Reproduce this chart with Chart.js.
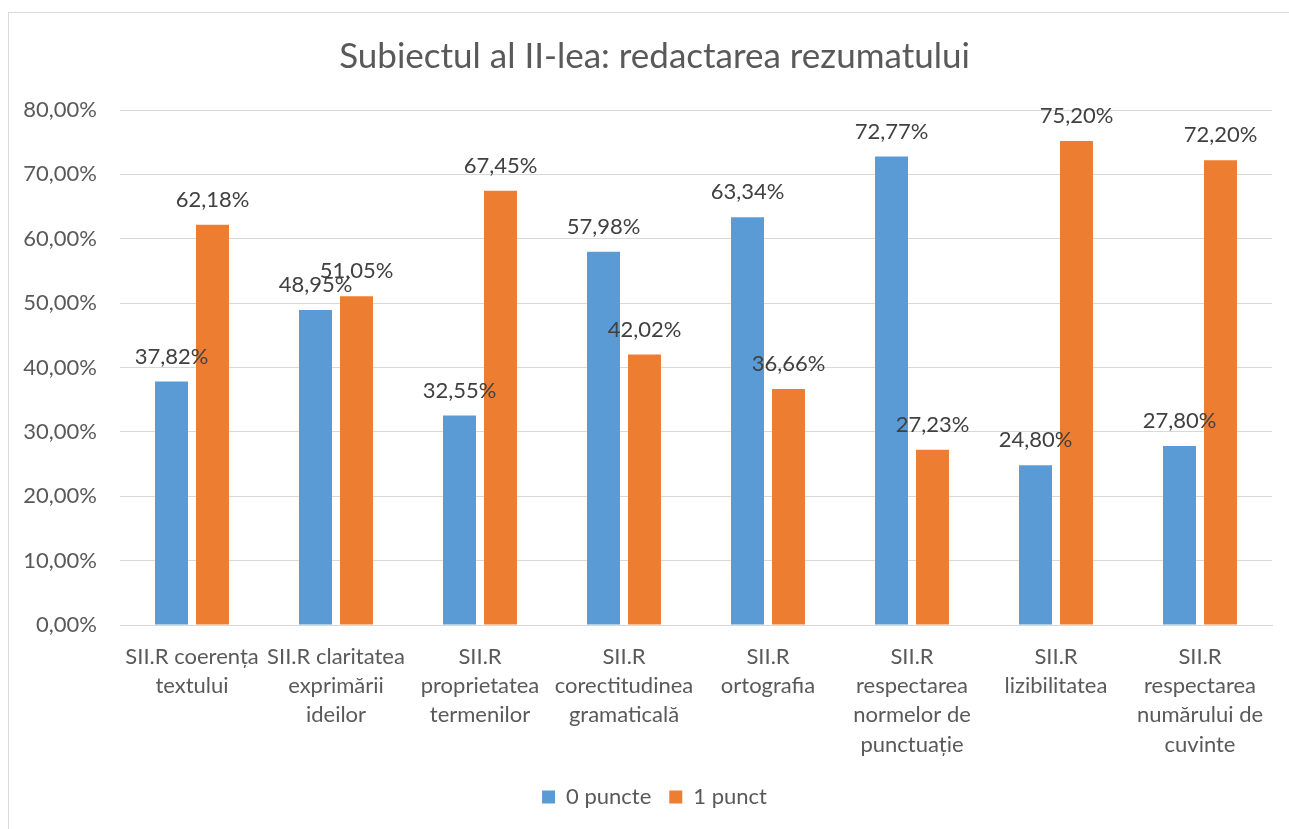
<!DOCTYPE html>
<html>
<head>
<meta charset="utf-8">
<script src="https://cdn.jsdelivr.net/npm/chart.js@4/dist/chart.umd.min.js"></script>
<style>
  html, body { margin: 0; padding: 0; background: #ffffff; overflow: hidden; width: 1289px; height: 829px; }
  #frame { position: absolute; left: 8px; top: 12px; width: 1300px; height: 840px; border: 1px solid #d9d9d9; box-sizing: border-box; pointer-events: none; }
  #c { position: absolute; left: 0; top: 0; }
</style>
</head>
<body>
<div id="frame"></div>
<canvas id="c" width="1289" height="829"></canvas>
<script>
const categories = [
  ["SII.R coerența", "textului"],
  ["SII.R claritatea", "exprimării", "ideilor"],
  ["SII.R", "proprietatea", "termenilor"],
  ["SII.R", "corectitudinea", "gramaticală"],
  ["SII.R", "ortografia"],
  ["SII.R", "respectarea", "normelor de", "punctuație"],
  ["SII.R", "lizibilitatea"],
  ["SII.R", "respectarea", "numărului de", "cuvinte"]
];
const seriesNames = ["0 puncte", "1 punct"];
const zeroPoints = [37.82, 48.95, 32.55, 57.98, 63.34, 72.77, 24.80, 27.80];
const onePoint = [62.18, 51.05, 67.45, 42.02, 36.66, 27.23, 75.20, 72.20];
const yTicks = [0, 10, 20, 30, 40, 50, 60, 70, 80];
const chartTitle = "Subiectul al II-lea: redactarea rezumatului";

const FONT = "Lato";
const fmt = v => v.toFixed(2).replace('.', ',') + '%';

const dataLabels = {
  id: 'dataLabels',
  afterLayout(chart) {
    // let the y tick labels extend into the left padding without being clipped
    chart.scales.y.left = 0;
  },
  afterDatasetsDraw(chart) {
    const ctx = chart.ctx;
    ctx.save();
    ctx.font = "22px " + FONT;
    ctx.fillStyle = "#404040";
    ctx.textAlign = "center";
    ctx.textBaseline = "middle";
    chart.data.datasets.forEach((ds, i) => {
      const meta = chart.getDatasetMeta(i);
      meta.data.forEach((bar, j) => {
        ctx.fillText(fmt(ds.data[j]), bar.x, bar.y - 25);
      });
    });
    ctx.restore();
  }
};

new Chart(document.getElementById('c'), {
  type: 'bar',
  data: {
    labels: categories,
    datasets: [
      { label: seriesNames[0], data: zeroPoints, backgroundColor: '#5B9BD5', categoryPercentage: 0.569, barPercentage: 0.805 },
      { label: seriesNames[1], data: onePoint, backgroundColor: '#ED7D31', categoryPercentage: 0.569, barPercentage: 0.805 }
    ]
  },
  options: {
    responsive: false,
    animation: false,
    layout: { padding: { top: 0, left: 37, right: 17, bottom: 11 } },
    plugins: {
      title: {
        display: true,
        text: chartTitle,
        color: '#595959',
        font: { family: FONT, size: 35, weight: 'normal', lineHeight: 1.2 },
        padding: { top: 36, bottom: 32 }
      },
      legend: {
        display: true,
        position: 'bottom',
        labels: {
          color: '#595959',
          font: { family: FONT, size: 22 },
          boxWidth: 13,
          boxHeight: 13,
          padding: 18
        }
      },
      tooltip: { enabled: false }
    },
    scales: {
      x: {
        grid: { display: false, drawTicks: false },
        border: { display: true, color: '#d9d9d9' },
        ticks: {
          color: '#595959',
          font: { family: FONT, size: 22, lineHeight: 1.33 },
          padding: 17,
          maxRotation: 0,
          autoSkip: false
        },
        afterFit(scale) { scale.height = 143; }
      },
      y: {
        min: 0,
        max: 80,
        afterBuildTicks(scale) { scale.ticks = yTicks.map(v => ({ value: v })); },
        grid: { color: '#d9d9d9', lineWidth: 1, drawTicks: false },
        border: { display: false },
        ticks: {
          color: '#595959',
          font: { family: FONT, size: 22 },
          padding: 23,
          callback: v => fmt(v)
        },
        afterFit(scale) { scale.width = 83; }
      }
    }
  },
  plugins: [dataLabels]
});
</script>
</body>
</html>
